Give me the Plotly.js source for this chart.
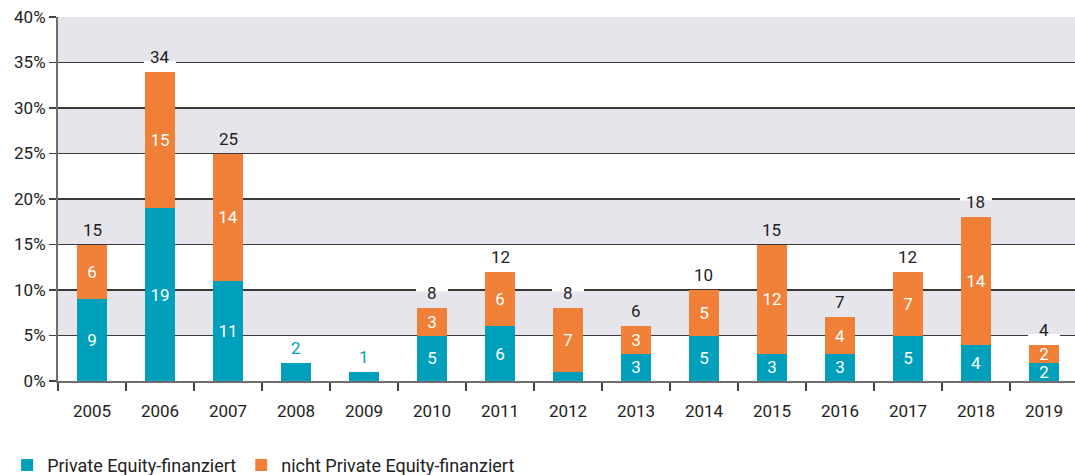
<!DOCTYPE html>
<html>
<head>
<meta charset="utf-8">
<script src="https://cdn.plot.ly/plotly-3.0.1.min.js"></script>
<style>
  html, body { margin: 0; padding: 0; background: #fff; }
  #chart { width: 1075px; height: 475px; }
</style>
</head>
<body>
<div id="chart"></div>
<script>
const years = ["2005","2006","2007","2008","2009","2010","2011","2012","2013","2014","2015","2016","2017","2018","2019"];
const peValues = [9, 19, 11, 2, 1, 5, 6, 1, 3, 5, 3, 3, 5, 4, 2];
const nonPeValues = [6, 15, 14, 0, 0, 3, 6, 7, 3, 5, 12, 4, 7, 14, 2];
const seriesNames = ["Private Equity-finanziert", "nicht Private Equity-finanziert"];
const yTicks = [0, 5, 10, 15, 20, 25, 30, 35, 40];
const yTickLabels = ["0%", "5%", "10%", "15%", "20%", "25%", "30%", "35%", "40%"];

const TEAL = "#00a0bd";
const ORANGE = "#f07f38";
const BAND = "#e6e5ec";
const FONT = "Roboto, 'DejaVu Sans', sans-serif";

const totals = peValues.map((v, i) => v + nonPeValues[i]);

const peText = peValues.map((v, i) => (nonPeValues[i] > 0 && v >= 2) ? String(v) : "");
const nonPeText = nonPeValues.map(v => v > 0 ? String(v) : "");

const traces = [
  {
    type: "bar", name: seriesNames[0], x: years, y: peValues,
    marker: { color: TEAL, line: { width: 0 } },
    text: peText, textposition: "inside", insidetextanchor: "middle",
    textangle: 0, constraintext: "none",
    textfont: { color: "#ffffff", size: 17, family: FONT },
    hoverinfo: "skip"
  },
  {
    type: "bar", name: seriesNames[1], x: years, y: nonPeValues,
    marker: { color: ORANGE, line: { width: 0 } },
    text: nonPeText, textposition: "inside", insidetextanchor: "middle",
    textangle: 0, constraintext: "none",
    textfont: { color: "#ffffff", size: 17, family: FONT },
    hoverinfo: "skip"
  }
];

const shapes = [];
// alternating background bands
for (let i = 0; i + 1 < yTicks.length; i++) {
  if (i % 2 === 1) {
    shapes.push({
      type: "rect", xref: "paper", yref: "y", x0: 0, x1: 1,
      y0: yTicks[i], y1: yTicks[i + 1],
      fillcolor: BAND, line: { width: 0 }, layer: "below"
    });
  }
}
// gridline gaps behind the total labels that sit on a gridline
totals.forEach((t, i) => {
  yTicks.forEach(tv => {
    const d = tv - t;
    if (d > 0 && d < 2.8) {
      shapes.push({
        type: "line", xref: "x", yref: "y",
        x0: i - 0.235, x1: i + 0.235, y0: tv, y1: tv,
        line: { color: "#ffffff", width: 3 }, layer: "above"
      });
    }
  });
});

const annotations = years.map((yr, i) => {
  const peOnly = nonPeValues[i] === 0;
  return {
    x: i, y: totals[i], xref: "x", yref: "y",
    text: String(totals[i]), showarrow: false,
    xanchor: "center", yanchor: "bottom", yshift: 3,
    font: { size: 17, color: peOnly ? TEAL : "#222222", family: FONT }
  };
});

const layout = {
  width: 1075, height: 475,
  margin: { l: 58, r: 0, t: 17, b: 94, autoexpand: false },
  paper_bgcolor: "#ffffff", plot_bgcolor: "rgba(0,0,0,0)",
  barmode: "stack", bargap: 0.545,
  font: { family: FONT, size: 17, color: "#222222" },
  showlegend: true,
  legend: {
    orientation: "h", x: -0.05, xanchor: "left", y: -0.181, yanchor: "top",
    font: { size: 18, color: "#222222", family: FONT },
    traceorder: "normal",
    bgcolor: "rgba(0,0,0,0)"
  },
  xaxis: {
    type: "category", range: [-0.5, 14.456], fixedrange: true,
    showgrid: false, showline: true, linecolor: "#6e6e6e", linewidth: 2,
    ticks: "outside", tickson: "boundaries", ticklen: 8, tickcolor: "#444", tickwidth: 1.5,
    ticklabelstandoff: 14,
    tickfont: { size: 17, color: "#222222", family: FONT }
  },
  yaxis: {
    range: [0, 40], tickmode: "array", tickvals: yTicks, ticktext: yTickLabels, fixedrange: true,
    showgrid: true, gridcolor: "#3a3a3a", gridwidth: 1.2,
    zeroline: false,
    showline: true, linecolor: "#6e6e6e", linewidth: 2,
    ticks: "outside", ticklen: 7, tickcolor: "#444", tickwidth: 1.5,
    tickfont: { size: 17, color: "#222222", family: FONT }
  },
  uniformtext: { minsize: 17, mode: "show" },
  shapes: shapes,
  annotations: annotations
};

Plotly.newPlot("chart", traces, layout, { displayModeBar: false, staticPlot: true });
</script>
</body>
</html>
